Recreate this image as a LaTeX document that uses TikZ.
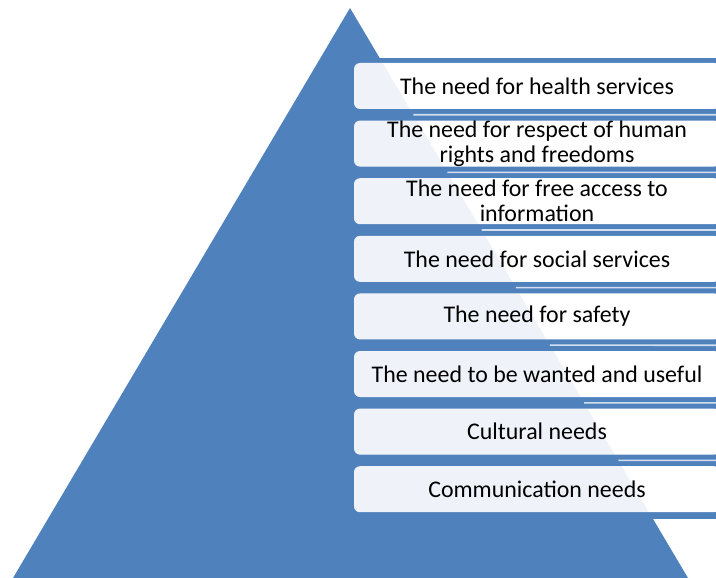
\documentclass[tikz,border=0pt]{standalone}
\usepackage{fontspec}
\setmainfont{Carlito}
\usetikzlibrary{calc}
\definecolor{pyrblue}{RGB}{79,129,189}

\tikzset{
  needbox/.style={rectangle, rounded corners=6bp, fill=white,
    minimum width=366bp, minimum height=46bp, inner sep=0pt, align=center,
    font=\fontsize{24}{25}\selectfont,
    path picture={\fill[pyrblue,opacity=0.09] (apex) -- (bl) -- (br) -- cycle;}},
  gapline/.style={white, opacity=0.75, line width=1.6bp}
}

\begin{document}
\begin{tikzpicture}[x=1bp,y=-1bp]
\fill[white] (0,0) rectangle (716,578);
\clip (0,0) rectangle (716,578);

% pyramid
\coordinate (apex) at (350,8);
\coordinate (bl) at (13,578);
\coordinate (br) at (688,578);
\fill[pyrblue] (apex) -- (bl) -- (br) -- cycle;

% band behind the boxes
\fill[pyrblue] (352,58) rectangle (716,519);

% light lines in the gaps, right of the pyramid
\foreach \i in {0,...,6}{
  \pgfmathsetmacro{\gy}{114.8+57.6*\i}
  \pgfmathsetmacro{\gf}{(\gy-8)/570}
  \draw[gapline] ($(apex)!\gf!(br)$) -- (716,\gy);
}

% the needs
\node[needbox] (health)  at (537,86)    {The need for health services};
\node[needbox] (rights)  at (537,143.6) {The need for respect of human\\rights and freedoms};
\node[needbox] (info)    at (537,201.2) {The need for free access to\\information};
\node[needbox] (social)  at (537,258.8) {The need for social services};
\node[needbox] (safety)  at (537,316.4) {The need for safety};
\node[needbox] (wanted)  at (537,374)   {The need to be wanted and useful};
\node[needbox] (culture) at (537,431.6) {Cultural needs};
\node[needbox] (commun)  at (537,489.2) {Communication needs};
\end{tikzpicture}
\end{document}
